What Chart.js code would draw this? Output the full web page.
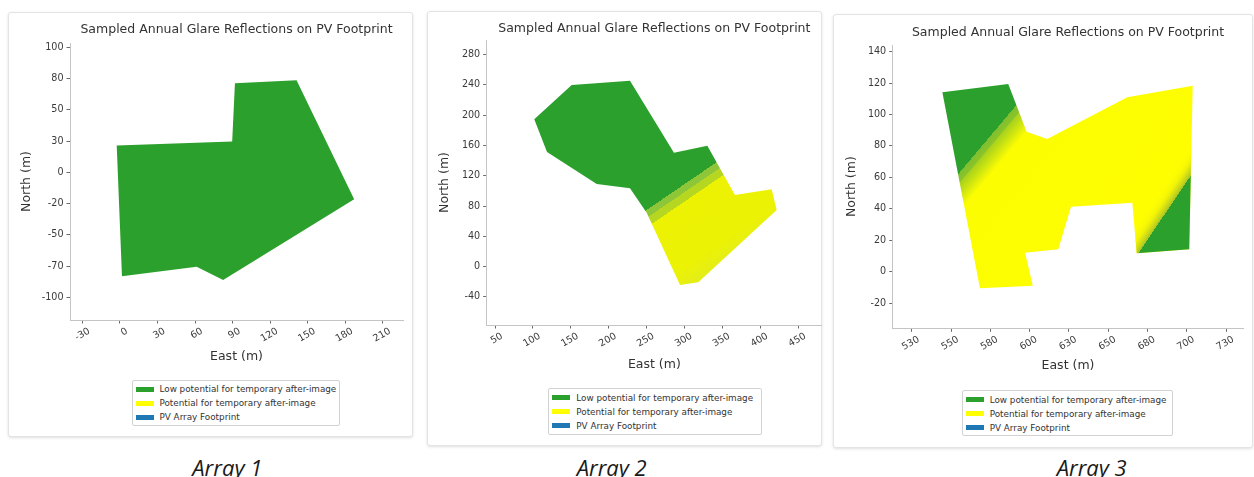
<!DOCTYPE html>
<html>
<head>
<meta charset="utf-8">
<script src="https://cdn.jsdelivr.net/npm/chart.js@4.4.1/dist/chart.umd.min.js"></script>
<style>
  html, body { margin: 0; padding: 0; background: #ffffff; }
  body { width: 1254px; height: 477px; position: relative; overflow: hidden; font-family: "DejaVu Sans", sans-serif; }
  .card { position: absolute; background: #fff; border: 1px solid #e4e4e4; border-radius: 3px;
          box-shadow: 0 1px 3px rgba(0,0,0,0.13); box-sizing: border-box; }
  canvas.plot { position: absolute; }
  .legend { position: absolute; border: 1px solid #d2d2d2; border-radius: 2px; background: #fff;
            box-sizing: border-box; font-size: 8.8px; color: #333; }
  .legend .row { position: absolute; height: 12px; line-height: 12px; white-space: nowrap; }
  .legend .sw { position: absolute; width: 18px; height: 5px; }
  .legend .tx { position: absolute; }
  .caption { position: absolute; top: 455.5px; font: italic 22px/22px "Open Sans", sans-serif; color: #1a1a1a;
             transform: translateX(-50%); white-space: nowrap; }
</style>
</head>
<body>
<script>
// ---- Footprint outlines (East, North in metres) ----
const east1  = [-2.6, 89.6, 91.8, 141.0, 187.0, 82.4, 61.2, 1.6];
const north1 = [21.4, 24.6, 71.1, 73.5, -21.6, -86.0, -75.4, -83.1];

const east2  = [101.8, 151.2, 228.1, 286.1, 330.1, 366.6, 415.0, 421.6, 318.2, 294.1, 250.1, 228.1, 184.2, 118.6];
const north2 = [194.6, 239.9, 245.5, 150.5, 159.7, 94.7, 102.2, 74.9, -20.6, -24.2, 71.3, 103.5, 109.2, 151.4];

const east3  = [544.5, 586.4, 598.1, 611.2, 662.1, 703.7, 701.5, 668.1, 665.3, 626.3, 618.2, 597.1, 602.0, 568.4];
const north3 = [114.1, 119.4, 89.0, 84.4, 110.9, 118.3, 14.2, 11.7, 43.9, 41.3, 14.2, 12.1, -8.9, -10.6];

// ---- Edges between glare classes inside each footprint ----
const band2Edge   = [[250.1, 74.9], [340.2, 136.5]];
const band2Toward = [330, 40];
const band3aEdge   = [[556.8, 64.7], [590.7, 104.9]];
const band3aToward = [640, 60];
const band3bEdge   = [[669.1, 11.7], [702.0, 60.4]];
const band3bToward = [695, 25];

// ---- Tick values and labels ----
const eastTicks1   = [-30, 0, 30, 60, 90, 120, 150, 180, 210];
const eastLabels1  = ['-30', '0', '30', '60', '90', '120', '150', '180', '210'];
const northTicks1  = [-100, -75, -50, -25, 0, 25, 50, 75, 100];
const northLabels1 = ['-100', '-70', '-50', '-20', '0', '30', '50', '80', '100'];

const eastTicks2   = [50, 100, 150, 200, 250, 300, 350, 400, 450];
const eastLabels2  = ['50', '100', '150', '200', '250', '300', '350', '400', '450'];
const northTicks2  = [-40, 0, 40, 80, 120, 160, 200, 240, 280];
const northLabels2 = ['-40', '0', '40', '80', '120', '160', '200', '240', '280'];

const eastTicks3   = [525, 550, 575, 600, 625, 650, 675, 700, 725];
const eastLabels3  = ['530', '550', '580', '600', '630', '650', '680', '700', '730'];
const northTicks3  = [-20, 0, 20, 40, 60, 80, 100, 120, 140];
const northLabels3 = ['-20', '0', '20', '40', '60', '80', '100', '120', '140'];

// ---- Legend ----
const seriesNames  = ['Low potential for temporary after-image', 'Potential for temporary after-image', 'PV Array Footprint'];
const seriesColors = ['#2ca02c', '#ffff00', '#1f77b4'];
const captions     = ['Array 1', 'Array 2', 'Array 3'];

const TITLE = 'Sampled Annual Glare Reflections on PV Footprint';
const FONT = 'DejaVu Sans';
const GREEN = seriesColors[0];

const pts = (xs, ys) => xs.map((x, i) => ({ x: x, y: ys[i] }));

// Linear gradient laid out across an edge, with stops given as distances in metres
function bandGradient(edge, toward, stops) {
  return (ctx) => {
    const chart = ctx.chart;
    const xs = chart.scales.x, ys = chart.scales.y;
    if (!chart.chartArea || !xs || !ys) return stops[stops.length - 1][1];
    const px = (p) => [xs.getPixelForValue(p[0]), ys.getPixelForValue(p[1])];
    const a = px(edge[0]), b = px(edge[1]), t = px(toward);
    const dx = b[0] - a[0], dy = b[1] - a[1];
    const len = Math.hypot(dx, dy);
    let nx = -dy / len, ny = dx / len;
    if ((t[0] - a[0]) * nx + (t[1] - a[1]) * ny < 0) { nx = -nx; ny = -ny; }
    const unit = Math.abs(xs.getPixelForValue(1) - xs.getPixelForValue(0));
    const d0 = stops[0][0], d1 = stops[stops.length - 1][0];
    const g = chart.ctx.createLinearGradient(
      a[0] + nx * d0 * unit, a[1] + ny * d0 * unit,
      a[0] + nx * d1 * unit, a[1] + ny * d1 * unit);
    stops.forEach(([d, c]) => g.addColorStop((d - d0) / (d1 - d0), c));
    return g;
  };
}

function polygon(xs, ys, fillStyle, order) {
  return {
    data: pts(xs, ys),
    showLine: true,
    fill: 'shape',
    backgroundColor: fillStyle,
    borderColor: 'rgba(0,0,0,0)',
    borderWidth: 1,
    pointRadius: 0,
    tension: 0,
    order: order || 0
  };
}

const panels = [
  {
    card: [8, 12, 405, 425], canvas: [8, 12, 405, 425],
    yAxisW: 62, titlePad: [10.5, 5.5], yTitlePad: 11.5, padRight: 10, xAxisH: 48, xTitlePad: 3.5, padBottom: 69,
    xRange: [-39.9, 226.0], yRange: [-118.0, 103.3],
    xTicks: eastTicks1, xLabels: eastLabels1, yTicks: northTicks1, yLabels: northLabels1,
    datasets: [polygon(east1, north1, GREEN)],
    legend: [131.5, 379.5, 208.5, 46], caption: 227.3
  },
  {
    card: [427, 11, 395, 435], canvas: [427, 12, 395, 433],
    yAxisW: 59.7, titlePad: [8.8, 4.2], yTitlePad: 10.5, padRight: 0, xAxisH: 50, xTitlePad: 2.5, padBottom: 70,
    xRange: [39.05, 481.4], yRange: [-77.0, 299.3],
    xTicks: eastTicks2, xLabels: eastLabels2, yTicks: northTicks2, yLabels: northLabels2,
    datasets: [polygon(east2, north2, bandGradient(band2Edge, band2Toward, [
      [-400, GREEN], [0, GREEN], [0, '#8ec63a'], [8.7, '#8ec63a'], [8.7, '#b6d722'], [19, '#b6d722'],
      [19, '#edf203'], [90, '#ecf204'], [125, '#e0ec20']
    ]))],
    legend: [548.3, 388, 214, 47], caption: 611.7
  },
  {
    card: [833, 14, 420, 434], canvas: [833, 14, 420, 433],
    yAxisW: 59.7, titlePad: [11.2, 4.8], yTitlePad: 11.2, padRight: 9.7, xAxisH: 48, xTitlePad: 3.1, padBottom: 70.7,
    xRange: [512.92, 735.87], yRange: [-36.0, 144.17],
    xTicks: eastTicks3, xLabels: eastLabels3, yTicks: northTicks3, yLabels: northLabels3,
    datasets: [
      polygon(east3, north3, bandGradient(band3aEdge, band3aToward, [
        [-150, GREEN], [0, GREEN], [0, '#7fbe2e'], [4, '#8ac42a'], [4.5, '#a9d21e'], [7.5, '#bcdc16'],
        [16, '#fdfd02'], [200, '#ffff00']
      ]), 2),
      polygon(east3, north3, bandGradient(band3bEdge, band3bToward, [
        [-200, 'rgba(255,255,0,0)'], [-11, 'rgba(255,255,0,0)'], [-5, 'rgba(240,242,8,1)'],
        [-1.5, '#c4d41c'], [0, '#a6c626'], [0, GREEN], [60, GREEN]
      ]), 1)
    ],
    legend: [961.7, 390, 211.6, 46], caption: 1091.7
  }
];

function axisOptions(p, isX) {
  const ticks = isX ? p.xTicks : p.yTicks;
  const labels = isX ? p.xLabels : p.yLabels;
  const range = isX ? p.xRange : p.yRange;
  const o = {
    type: 'linear',
    position: isX ? 'bottom' : 'left',
    min: range[0],
    max: range[1],
    afterBuildTicks: (s) => { s.ticks = ticks.map(v => ({ value: v })); },
    afterFit: (s) => { if (isX) s.height = p.xAxisH; else s.width = p.yAxisW; },
    border: { display: true, color: '#c4c4c4', width: 1 },
    grid: { drawOnChartArea: false, drawTicks: true, tickLength: 3.5, tickColor: '#6a6a6a', tickWidth: 1 },
    ticks: {
      autoSkip: false,
      color: '#3a3a3a',
      font: { family: FONT, size: 9.6 },
      padding: isX ? 2 : 3,
      callback: (v) => labels[ticks.indexOf(v)]
    },
    title: {
      display: true,
      text: isX ? 'East (m)' : 'North (m)',
      color: '#333',
      font: { family: FONT, size: 12.5 },
      padding: isX ? { top: 0, bottom: p.xTitlePad } : { top: p.yTitlePad, bottom: 0 }
    }
  };
  if (isX) {
    o.ticks.minRotation = 30;
    o.ticks.maxRotation = 30;
    o.ticks.labelOffset = 7;
  }
  return o;
}

panels.forEach((p, idx) => {
  const card = document.createElement('div');
  card.className = 'card';
  card.style.cssText = `left:${p.card[0]}px;top:${p.card[1]}px;width:${p.card[2]}px;height:${p.card[3]}px;`;
  document.body.appendChild(card);

  const cv = document.createElement('canvas');
  cv.className = 'plot';
  cv.width = p.canvas[2];
  cv.height = p.canvas[3];
  cv.style.cssText = `left:${p.canvas[0]}px;top:${p.canvas[1]}px;width:${p.canvas[2]}px;height:${p.canvas[3]}px;`;
  document.body.appendChild(cv);

  new Chart(cv, {
    type: 'scatter',
    data: { datasets: p.datasets },
    options: {
      responsive: false,
      animation: false,
      devicePixelRatio: 1,
      events: [],
      layout: { padding: { left: 0, top: 0, right: p.padRight, bottom: p.padBottom } },
      plugins: {
        legend: { display: false },
        tooltip: { enabled: false },
        title: {
          display: true,
          text: TITLE,
          fullSize: false,
          color: '#333',
          font: { family: FONT, size: 12.5, weight: 'normal' },
          padding: { top: p.titlePad[0], bottom: p.titlePad[1] }
        }
      },
      scales: { x: axisOptions(p, true), y: axisOptions(p, false) }
    }
  });

  // legend box
  const lg = document.createElement('div');
  lg.className = 'legend';
  lg.style.cssText = `left:${p.legend[0]}px;top:${p.legend[1]}px;width:${p.legend[2]}px;height:${p.legend[3]}px;`;
  seriesNames.forEach((name, i) => {
    const row = document.createElement('div');
    row.className = 'row';
    row.style.top = (2.5 + i * 14.1) + 'px';
    row.style.left = '0px';
    const sw = document.createElement('span');
    sw.className = 'sw';
    sw.style.cssText = `left:3px;top:3.5px;background:${seriesColors[i]};`;
    const tx = document.createElement('span');
    tx.className = 'tx';
    tx.style.left = '27px';
    tx.textContent = name;
    row.appendChild(sw);
    row.appendChild(tx);
    lg.appendChild(row);
  });
  document.body.appendChild(lg);

  const cap = document.createElement('div');
  cap.className = 'caption';
  cap.style.left = p.caption + 'px';
  cap.textContent = captions[idx];
  document.body.appendChild(cap);
});
</script>
</body>
</html>
